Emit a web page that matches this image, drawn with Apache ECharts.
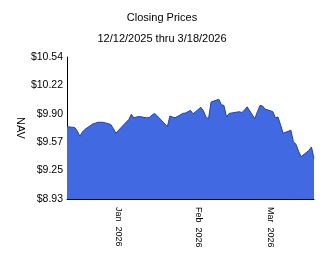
<!DOCTYPE html>
<html>
<head>
<meta charset="utf-8">
<script src="https://cdn.jsdelivr.net/npm/echarts@6/dist/echarts.min.js"></script>
<style>
html,body{margin:0;padding:0;background:#fff;}
#c{width:324px;height:267px;}
</style>
</head>
<body>
<div id="c"></div>
<script>
var dates = ['2025-12-12','2025-12-15','2025-12-16','2025-12-17','2025-12-18','2025-12-19','2025-12-22','2025-12-23','2025-12-24','2025-12-26','2025-12-29','2025-12-30','2025-12-31',
'2026-01-02','2026-01-05','2026-01-06','2026-01-07','2026-01-08','2026-01-09','2026-01-12','2026-01-13','2026-01-14','2026-01-15','2026-01-16','2026-01-20','2026-01-21','2026-01-22','2026-01-23','2026-01-26','2026-01-27','2026-01-28','2026-01-29','2026-01-30',
'2026-02-02','2026-02-03','2026-02-04','2026-02-05','2026-02-06','2026-02-09','2026-02-10','2026-02-11','2026-02-12','2026-02-13','2026-02-17','2026-02-18','2026-02-19','2026-02-20','2026-02-23','2026-02-24','2026-02-25','2026-02-26','2026-02-27',
'2026-03-02','2026-03-03','2026-03-04','2026-03-05','2026-03-06','2026-03-09','2026-03-10','2026-03-11','2026-03-12','2026-03-13','2026-03-16','2026-03-17','2026-03-18'];
var nav = [9.75,9.74,9.70,9.64,9.69,9.72,9.78,9.79,9.80,9.80,9.775,9.73,9.675,
9.74,9.83,9.89,9.85,9.86,9.865,9.85,9.855,9.88,9.90,9.875,9.75,9.87,9.86,9.85,9.90,9.905,9.92,9.935,9.895,
9.97,9.93,9.86,9.84,10.03,10.06,10.00,9.99,9.86,9.90,9.92,9.91,9.94,9.975,9.84,9.92,9.99,9.985,9.95,
9.92,9.85,9.86,9.77,9.675,9.71,9.58,9.55,9.47,9.41,9.48,9.52,9.39];
var xTickDates = ['2026-01-01','2026-02-01','2026-03-01'];
var monthNames = ['Jan','Feb','Mar','Apr','May','Jun','Jul','Aug','Sep','Oct','Nov','Dec'];
var yAxisTitle = 'NAV';
var yMin = 8.93, yMax = 10.54, yStep = 0.322;

function ts(s){var p=s.split('-');return Date.UTC(+p[0],+p[1]-1,+p[2]);}
var seriesData = dates.map(function(d,i){return [ts(d), nav[i]];});

var chart = echarts.init(document.getElementById('c'), null, {renderer:'canvas'});
chart.setOption({
  animation: false,
  backgroundColor: '#fff',
  title: [
    {text:'Closing Prices', left:'center', top:7, textStyle:{fontFamily:'Liberation Sans, Arial, sans-serif', fontSize:11, fontWeight:'normal', color:'#000'}},
    {text:'12/12/2025 thru 3/18/2026', left:'center', top:28, textStyle:{fontFamily:'Liberation Sans, Arial, sans-serif', fontSize:11, fontWeight:'normal', color:'#000'}}
  ],
  graphic: [{
    type:'text', x:20, y:128, rotation:-Math.PI/2,
    style:{text:yAxisTitle, x:0, y:0, align:'center', verticalAlign:'middle', fill:'#000',
      font:'11px "Liberation Sans", Arial, sans-serif'}
  }],
  grid: {left:67, right:10, top:57, bottom:68, containLabel:false},
  xAxis: {
    type:'value',
    min: ts(dates[0]),
    max: ts(dates[dates.length-1]),
    axisLine:{show:true, onZero:false, lineStyle:{color:'#000', width:1}},
    axisTick:{show:false},
    splitLine:{show:false},
    axisLabel:{
      customValues: xTickDates.map(ts),
      rotate:-90,
      margin:8,
      fontSize:9,
      fontFamily:'Liberation Sans, Arial, sans-serif',
      color:'#000',
      formatter:function(v){var d=new Date(v);return monthNames[d.getUTCMonth()]+'  '+d.getUTCFullYear();}
    }
  },
  yAxis: {
    type:'value',
    min:yMin, max:yMax, interval:yStep,
    axisLine:{show:true, lineStyle:{color:'#000', width:1}},
    axisTick:{show:false},
    splitLine:{show:false},
    axisLabel:{
      fontSize:10.5, margin:4, color:'#000',
      fontFamily:'Liberation Sans, Arial, sans-serif',
      formatter:function(v){return '$'+v.toFixed(2);}
    }
  },
  series: [{
    type:'line',
    data: seriesData,
    showSymbol:false,
    lineStyle:{color:'#2140A8', width:1},
    areaStyle:{color:'#4169E1', opacity:1},
    z:1
  }]
});
</script>
</body>
</html>
